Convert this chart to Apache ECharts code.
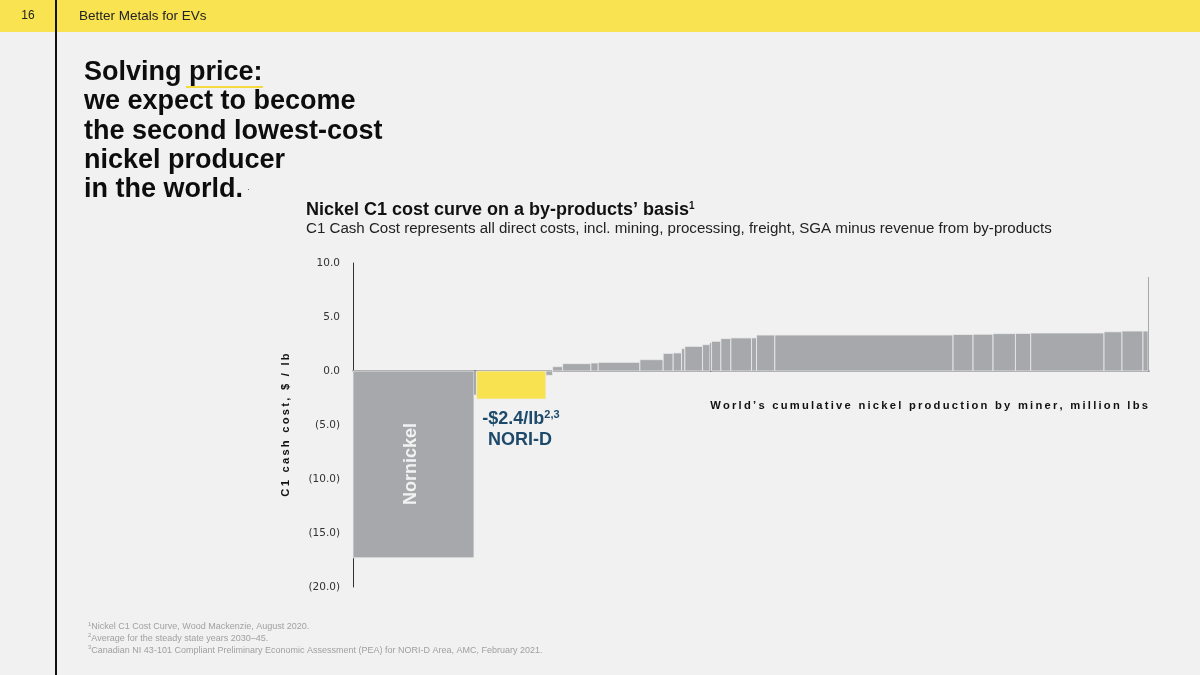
<!DOCTYPE html>
<html>
<head>
<meta charset="utf-8">
<title>Nickel C1 cost curve</title>
<script src="https://cdn.jsdelivr.net/npm/echarts@6/dist/echarts.min.js"></script>
<style>
html, body { margin: 0; padding: 0; background: #f1f1f1; }
#chart { width: 1200px; height: 675px; }
</style>
</head>
<body>
<div id="chart"></div>
<script>
// producers along the curve, left to right (million lbs, $/lb)
var producers = ['Nornickel', '', 'NORI-D', '', '', '', '', '', '', '', '', '', '', '', '',
                 '', '', '', '', '', '', '', '', '', '', '', '', '', '', ''];
var volumes = [121, 2.5, 69.5, 6.7, 10, 28.3, 7.3, 41.7, 23.3, 10, 8.4, 3.3, 17.7, 7.3, 1.7,
               9.3, 10, 20.7, 5, 18.3, 178.3, 20, 20, 22.4, 15.3, 73.3, 18, 21, 5, 1];
var costs = [-17.3, -2.2, -2.6, -0.4, 0.4, 0.68, 0.74, 0.8, 1.05, 1.63, 1.67, 2.07, 2.28, 2.44, 2.6,
             2.75, 3.0, 3.06, 3.06, 3.33, 3.33, 3.38, 3.4, 3.46, 3.48, 3.52, 3.63, 3.7, 3.7, 8.7];
var yTicks = [-20, -15, -10, -5, 0, 5, 10];
var yTickLabels = ['(20.0)', '(15.0)', '(10.0)', '(5.0)', '0.0', '5.0', '10.0'];

var headlineLines = ['Solving price:', 'we expect to become', 'the second lowest-cost',
                     'nickel producer', 'in the world.'];
var footnotes = [
    ['1', 'Nickel C1 Cost Curve, Wood Mackenzie, August 2020.'],
    ['2', 'Average for the steady state years 2030\u201345.'],
    ['3', 'Canadian NI 43-101 Compliant Preliminary Economic Assessment (PEA) for NORI-D Area, AMC, February 2021.']
];

var grey = '#a6a8ab';
var yellow = '#f9e24f';
var navy = '#1d4a6b';
var arial = '"Liberation Sans", Arial, Helvetica, sans-serif';

// spread letters like the slide's tracked captions
function spaced(s) {
    return s.split('').join('\u2009');
}

// build [start, end, cost, name] rows from the arrays
var rows = [];
var total = 0;
for (var i = 0; i < volumes.length; i++) {
    rows.push([total, total + volumes[i], costs[i], producers[i]]);
    total += volumes[i];
}

var graphics = [
    { type: 'rect', shape: { x: 0, y: 0, width: 1200, height: 32 }, style: { fill: '#f9e351' }, z: 1 },
    { type: 'rect', shape: { x: 55, y: 0, width: 2, height: 675 }, style: { fill: '#111' }, z: 2 },
    { type: 'text', x: 28, y: 16, style: { text: '16', fill: '#222', font: '12px ' + arial,
        align: 'center', verticalAlign: 'middle' }, z: 3 },
    { type: 'text', x: 79, y: 16, style: { text: 'Better Metals for EVs', fill: '#222',
        font: '13.5px ' + arial, align: 'left', verticalAlign: 'middle' }, z: 3 },
    { type: 'rect', shape: { x: 186, y: 86, width: 77, height: 2 }, style: { fill: '#f5da3f' }, z: 3 },
    { type: 'text', x: 247, y: 190, style: { text: '\u00b7', fill: '#555', font: '9px ' + arial,
        align: 'left', verticalAlign: 'middle' }, z: 3 },
    { type: 'text', x: 306, y: 210, z: 3, style: {
        text: 'Nickel C1 cost curve on a by-products\u2019 basis{s|1}',
        fill: '#111', font: 'bold 18px ' + arial, align: 'left', verticalAlign: 'middle',
        rich: { s: { fontSize: 10, fontWeight: 'bold', fontFamily: arial, fill: '#111',
            verticalAlign: 'top', lineHeight: 10 } } } },
    { type: 'text', x: 306, y: 229, z: 3, style: {
        text: 'C1 Cash Cost represents all direct costs, incl. mining, processing, freight, SGA minus revenue from by-products',
        fill: '#222', font: '15.1px ' + arial, align: 'left', verticalAlign: 'middle' } },
    { type: 'text', x: 1148, y: 406, z: 3, style: {
        text: spaced('World\u2019s cumulative nickel production by miner, million lbs'),
        fill: '#111', font: 'bold 11.2px ' + arial, align: 'right', verticalAlign: 'middle' } },
    { type: 'text', x: 411, y: 464, rotation: Math.PI / 2, z: 10, style: {
        text: 'Nornickel', fill: '#f2f2f2', font: 'bold 18px ' + arial,
        align: 'center', verticalAlign: 'middle' } },
    { type: 'text', x: 521, y: 419, z: 10, style: {
        text: '{m|-$2.4/lb}{s|2,3}', align: 'center', verticalAlign: 'middle',
        rich: {
            m: { fontSize: 18, fontWeight: 'bold', fontFamily: arial, fill: navy, lineHeight: 20 },
            s: { fontSize: 11, fontWeight: 'bold', fontFamily: arial, fill: navy, lineHeight: 11, verticalAlign: 'top' }
        } } },
    { type: 'text', x: 520, y: 440, z: 10, style: {
        text: 'NORI-D', fill: navy, font: 'bold 18px ' + arial,
        align: 'center', verticalAlign: 'middle' } }
];

for (var h = 0; h < headlineLines.length; h++) {
    graphics.push({ type: 'text', x: 84, y: 72.5 + h * 29.3, z: 3, style: {
        text: headlineLines[h], fill: '#0d0d0d', font: 'bold 27px ' + arial,
        align: 'left', verticalAlign: 'middle' } });
}
for (var f = 0; f < footnotes.length; f++) {
    graphics.push({ type: 'text', x: 88, y: 626.5 + f * 11.8, z: 3, style: {
        text: '{s|' + footnotes[f][0] + '}{m|' + footnotes[f][1] + '}',
        align: 'left', verticalAlign: 'middle',
        rich: {
            m: { fontSize: 9, fontFamily: arial, fill: '#a0a0a0', lineHeight: 11 },
            s: { fontSize: 6, fontFamily: arial, fill: '#a0a0a0', lineHeight: 6, verticalAlign: 'top' }
        } } });
}

var option = {
    backgroundColor: '#f1f1f1',
    animation: false,
    grid: { left: 353, right: 51, top: 263, bottom: 88 },
    xAxis: {
        type: 'value',
        min: 0,
        max: total,
        axisLine: { show: true, onZero: true, lineStyle: { color: '#6e6e6e', width: 1.5 } },
        axisTick: { show: false },
        axisLabel: { show: false },
        splitLine: { show: false }
    },
    yAxis: {
        type: 'value',
        min: -20,
        max: 10,
        interval: 5,
        name: spaced('C1 cash cost, $ / lb'),
        nameLocation: 'middle',
        nameGap: 62,
        nameTextStyle: { color: '#111', fontSize: 11.2, fontWeight: 'bold', fontFamily: arial },
        axisLine: { show: true, lineStyle: { color: '#333', width: 1 } },
        axisTick: { show: false },
        splitLine: { show: false },
        axisLabel: {
            margin: 13,
            color: '#333',
            fontSize: 10.5,
            fontFamily: '"DejaVu Sans", sans-serif',
            formatter: function (v) {
                var k = yTicks.indexOf(v);
                return k >= 0 ? yTickLabels[k] : '';
            }
        }
    },
    series: [{
        type: 'custom',
        data: rows,
        encode: { x: [0, 1], y: 2 },
        renderItem: function (params, api) {
            var p0 = api.coord([api.value(0), api.value(2)]);
            var p1 = api.coord([api.value(1), 0]);
            var name = rows[params.dataIndex][3];
            var w = p1[0] - p0[0];
            return {
                type: 'rect',
                shape: {
                    x: p0[0],
                    y: Math.min(p0[1], p1[1]),
                    width: w,
                    height: Math.abs(p1[1] - p0[1])
                },
                style: {
                    fill: name === 'NORI-D' ? yellow : grey,
                    stroke: w > 3 ? '#ececec' : null,
                    lineWidth: 0.8
                }
            };
        }
    }],
    graphic: graphics
};

var myChart = echarts.init(document.getElementById('chart'));
myChart.setOption(option);
</script>
</body>
</html>
